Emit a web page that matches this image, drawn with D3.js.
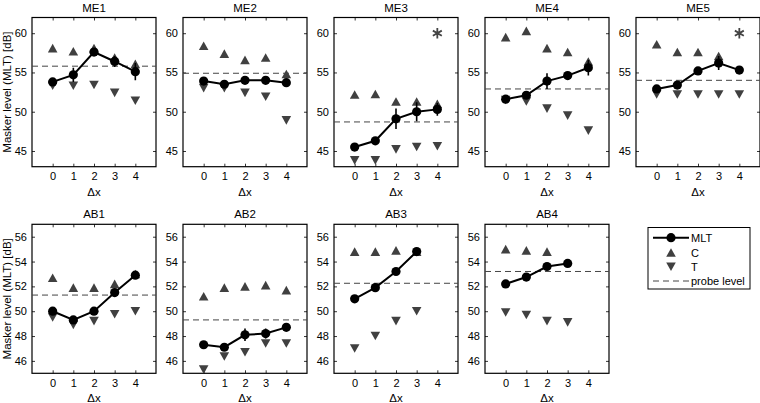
<!DOCTYPE html>
<html><head><meta charset="utf-8">
<script src="https://cdn.jsdelivr.net/npm/d3@7"></script>
<style>body{margin:0;background:#fff}svg{display:block}text{font-family:"Liberation Sans",Arial,Helvetica,sans-serif;fill:#000}</style>
</head><body><svg id="c" width="760" height="403"></svg>
<script>
const panelNames = ["ME1","ME2","ME3","ME4","ME5","AB1","AB2","AB3","AB4"];
const xTicks = [0,1,2,3,4];
const meTicks = [45,50,55,60];
const abTicks = [46,48,50,52,54,56];
const mltValues = [
  [53.8,54.7,57.6,56.4,55.1],
  [53.9,53.5,54.0,54.0,53.7],
  [45.5,46.3,49.1,50.0,50.3],
  [51.6,52.1,53.9,54.6,55.6],
  [52.9,53.4,55.2,56.2,55.3],
  [50.0,49.3,50.0,51.5,52.9],
  [47.3,47.1,48.1,48.2,48.7],
  [51.0,51.9,53.2,54.8],
  [52.2,52.75,53.6,53.85]
];
const mltErrors = [
  [0.3,0.9,0.5,0.7,1.1],
  [0.3,0.3,0.3,0.3,0.3],
  [0.5,0.2,1.3,1.2,0.8],
  [0.5,0.3,1.0,0.3,1.0],
  [0.2,0.2,0.3,0.9,0.2],
  [0.2,0.2,0.2,0.2,0.2],
  [0.2,0.2,0.5,0.4,0.2],
  [0.2,0.2,0.2,0.2],
  [0.2,0.2,0.2,0.2]
];
const cValues = [
  [58.1,57.7,58.1,56.9,56.1],
  [58.4,57.4,56.6,56.9,54.8],
  [52.2,52.25,51.3,51.3,51.0],
  [59.5,60.3,58.1,57.6,56.4],
  [58.6,57.6,57.6,57.1,null],
  [52.7,51.9,51.9,52.2,53.0],
  [51.2,51.9,52.0,52.1,51.7],
  [54.8,54.8,54.9,54.8],
  [55.0,54.9,54.8]
];
const tValues = [
  [53.3,53.3,53.4,52.4,51.4],
  [53.0,53.0,52.4,51.9,48.9],
  [43.8,43.8,45.2,45.5,45.6],
  [51.5,51.3,50.4,49.5,47.6],
  [52.2,52.2,52.2,52.2,52.2],
  [49.5,48.9,49.2,49.75,50.0],
  [45.3,46.35,46.7,47.4,47.4],
  [47.0,48.0,49.2,50.0],
  [49.9,49.7,49.2,49.1]
];
const probeLevels = [55.8,54.9,48.7,52.9,54.0,51.3,49.3,52.25,53.2];
const starValues = [null,null,[4,60],null,[4,60],null,null,null,null];
const legendLabels = ["MLT","C","T","probe level"];

const svg = d3.select("#c");
const lefts = [32,183,334,485,636];
const pw = 124;
const rows = [{top:17.5,bottom:166.7,domain:[43,62],ticks:meTicks},
              {top:224.3,bottom:373.3,domain:[45,57],ticks:abTicks}];
const triColor = "#404040";

function triUp(cx,cy){const w=4.8,h=4.3;return `M${cx},${cy-h}L${cx+w},${cy+h}L${cx-w},${cy+h}Z`;}
function triDown(cx,cy){const w=4.8,h=4.3;return `M${cx},${cy+h}L${cx+w},${cy-h}L${cx-w},${cy-h}Z`;}

panelNames.forEach((name,i)=>{
  const r = i<5?0:1, c = i<5?i:i-5;
  const row = rows[r];
  const x0 = lefts[c];
  const x = d3.scaleLinear().domain([-1,5]).range([x0,x0+pw]);
  const y = d3.scaleLinear().domain(row.domain).range([row.bottom,row.top]);
  const g = svg.append("g");
  const tl = 3;
  const axB = g.append("g").attr("transform",`translate(0,${row.bottom})`)
    .call(d3.axisBottom(x).tickValues(xTicks).tickSize(-tl).tickPadding(6).tickFormat(d3.format("d")));
  const axT = g.append("g").attr("transform",`translate(0,${row.top})`)
    .call(d3.axisTop(x).tickValues(xTicks).tickSize(-tl).tickFormat(""));
  const axL = g.append("g").attr("transform",`translate(${x0},0)`)
    .call(d3.axisLeft(y).tickValues(row.ticks).tickSize(-tl).tickPadding(5));
  const axR = g.append("g").attr("transform",`translate(${x0+pw},0)`)
    .call(d3.axisRight(y).tickValues(row.ticks).tickSize(-tl).tickFormat(""));
  [axB,axT,axL,axR].forEach(a=>{
    a.select(".domain").remove();
    a.selectAll("line").attr("stroke","#000").attr("stroke-width",0.8);
    a.selectAll("text").attr("font-size",11).attr("font-family","Liberation Sans, Arial, sans-serif");
  });
  g.append("rect").attr("x",x0).attr("y",row.top).attr("width",pw).attr("height",row.bottom-row.top)
    .attr("fill","none").attr("stroke","#000").attr("stroke-width",1.2);
  g.append("text").attr("x",x0+pw/2).attr("y",row.top-6).attr("text-anchor","middle").attr("font-size",11.5).text(name);
  g.append("text").attr("x",x0+pw/2).attr("y",row.bottom+29).attr("text-anchor","middle").attr("font-size",11.5).text("Δx");
  if(c===0){
    g.append("text").attr("transform",`translate(11,${(row.top+row.bottom)/2}) rotate(-90)`)
      .attr("text-anchor","middle").attr("font-size",11.5).text("Masker level (MLT) [dB]");
  }
  const clip = "clip"+i;
  svg.append("clipPath").attr("id",clip).append("rect").attr("x",x0).attr("y",row.top).attr("width",pw).attr("height",row.bottom-row.top);
  const pg = g.append("g").attr("clip-path",`url(#${clip})`);
  cValues[i].forEach((v,k)=>{ if(v!=null) pg.append("path").attr("d",triUp(x(k),y(v))).attr("fill",triColor); });
  tValues[i].forEach((v,k)=>{ if(v!=null) pg.append("path").attr("d",triDown(x(k),y(v))).attr("fill",triColor); });
  pg.append("line").attr("x1",x0).attr("x2",x0+pw).attr("y1",y(probeLevels[i])).attr("y2",y(probeLevels[i]))
    .attr("stroke","#444").attr("stroke-width",1).attr("stroke-dasharray","6,4");
  if(starValues[i]){
    const [sx,sv]=starValues[i];
    pg.append("path").attr("d",d3.symbol().type(d3.symbolAsterisk).size(75)()).attr("transform",`translate(${x(sx)},${y(sv)})`)
      .attr("stroke","#444").attr("stroke-width",1.8).attr("fill","none");
  }
  const m = mltValues[i];
  m.forEach((v,k)=>{
    const e = mltErrors[i][k];
    pg.append("line").attr("x1",x(k)).attr("x2",x(k)).attr("y1",y(v-e)).attr("y2",y(v+e)).attr("stroke","#000").attr("stroke-width",1.6);
  });
  pg.append("path").datum(m).attr("d",d3.line().x((d,k)=>x(k)).y(d=>y(d))).attr("fill","none").attr("stroke","#000").attr("stroke-width",2);
  m.forEach((v,k)=>{ pg.append("circle").attr("cx",x(k)).attr("cy",y(v)).attr("r",4.6).attr("fill","#000"); });
});

const lg = svg.append("g");
lg.append("rect").attr("x",648).attr("y",227.5).attr("width",102).attr("height",61.5).attr("fill","#fff").attr("stroke","#000").attr("stroke-width",1);
const ly = [237.7,252.5,266.7,281];
lg.append("line").attr("x1",653).attr("x2",689).attr("y1",ly[0]).attr("y2",ly[0]).attr("stroke","#000").attr("stroke-width",2);
lg.append("circle").attr("cx",671).attr("cy",ly[0]).attr("r",4.6).attr("fill","#000");
lg.append("path").attr("d",triUp(671,ly[1])).attr("fill",triColor);
lg.append("path").attr("d",triDown(671,ly[2])).attr("fill",triColor);
lg.append("line").attr("x1",653).attr("x2",689).attr("y1",ly[3]).attr("y2",ly[3]).attr("stroke","#444").attr("stroke-width",1).attr("stroke-dasharray","6,4");
legendLabels.forEach((t,k)=>{
  lg.append("text").attr("x",691).attr("y",ly[k]+4).attr("font-size",11).text(t);
});
</script></body></html>
